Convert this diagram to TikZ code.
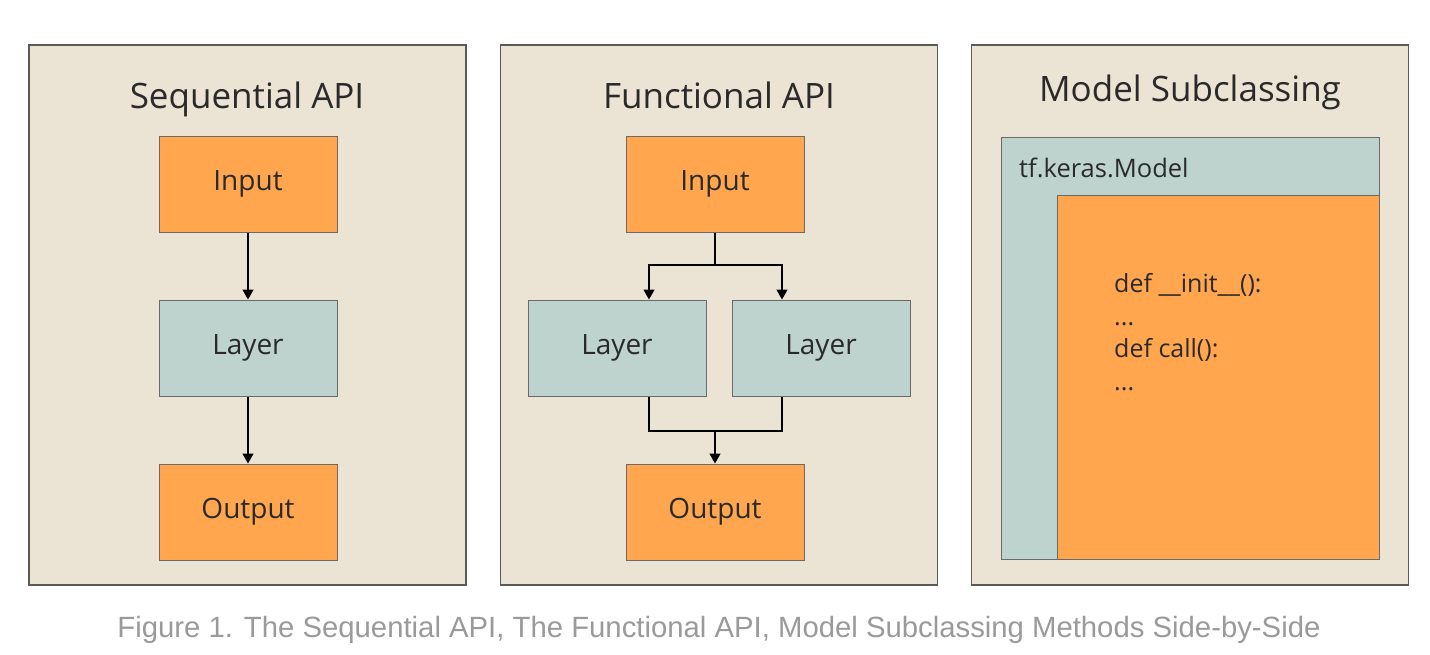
\documentclass[tikz,border=0pt]{standalone}
\usepackage{fontspec}
\setmainfont{Open Sans}
\newfontfamily\capfont{Liberation Sans}
\usetikzlibrary{arrows.meta}
\definecolor{panelbg}{HTML}{EBE4D4}
\definecolor{panelline}{HTML}{5A5A5A}
\definecolor{boxline}{HTML}{6A6A6A}
\definecolor{orangebox}{HTML}{FFA64F}
\definecolor{tealbox}{HTML}{BED3CE}
\definecolor{txt}{HTML}{2A2A2A}
\definecolor{capgray}{HTML}{9A9A9A}
\tikzset{
  panel/.style={draw=panelline, line width=1.4pt, fill=panelbg, minimum width=437, minimum height=540, inner sep=0},
  obox/.style={draw=boxline, line width=1pt, fill=orangebox, minimum width=178, minimum height=96, inner sep=0, text=txt, font=\fontsize{28}{34}\selectfont},
  tbox/.style={obox, fill=tealbox},
  ptitle/.style={anchor=base, text=txt, font=\fontsize{35}{42}\selectfont, inner sep=0},
  arr/.style={draw=black, line width=1.3pt, -{Triangle[width=11pt,length=10pt]}},
  ln/.style={draw=black, line width=1.3pt},
}
\begin{document}
\begin{tikzpicture}[x=1pt,y=-1pt]
\useasboundingbox (0,0) rectangle (1430,654);
\fill[white] (0,0) rectangle (1430,654);
% panels
\node[panel] (p1) at (247.5,315) {};
\node[panel] (p2) at (719,315) {};
\node[panel] (p3) at (1190,315) {};
% titles
\node[ptitle] (t1) at (247,108) {Sequential API};
\node[ptitle] (t2) at (719,108) {Functional API};
\node[ptitle] (t3) at (1190,101) {Model Subclassing};
% sequential
\node[obox] (sin) at (248,184) {Input};
\node[tbox] (sl) at (248,348) {Layer};
\node[obox] (sout) at (248,512) {Output};
\draw[arr] (sin) -- (sl);
\draw[arr] (sl) -- (sout);
% functional
\node[obox] (fin) at (715,184) {Input};
\node[tbox] (fl) at (617,348) {Layer};
\node[tbox] (fr) at (821,348) {Layer};
\node[obox] (fout) at (715,512) {Output};
\coordinate (fsplit) at (715,265);
\coordinate (fmerge) at (715,431);
\draw[ln] (fin.south) -- (fsplit);
\draw[arr] (fsplit) -| ([xshift=32]fl.north);
\draw[arr] (fsplit) -| ([xshift=-39]fr.north);
\draw[ln] ([xshift=32]fl.south) |- (fmerge);
\draw[ln] ([xshift=-39]fr.south) |- (fmerge);
\draw[arr] (fmerge) -- (fout.north);
% model subclassing
\node[draw=boxline, line width=1pt, fill=tealbox, minimum width=378, minimum height=422, inner sep=0] (mt) at (1190,348) {};
\node[draw=boxline, line width=1pt, fill=orangebox, minimum width=322, minimum height=364, inner sep=0] (mo) at (1218,377) {};
\node[anchor=base west, inner sep=0, text=txt, font=\fontsize{25.5}{30}\selectfont] (mlabel) at (1019,177) {tf.keras.Model};
\node[anchor=base west, inner sep=0, text=txt, align=left, font=\fontsize{25}{32.5}\selectfont] (code) at (1114,390) {def \_\_init\_\_():\\...\\def call():\\...};
% caption
\node[anchor=base, inner sep=0, text=capgray, font=\capfont\fontsize{29.3}{34}\selectfont] (cap) at (719,637) {Figure 1. The Sequential API, The Functional API, Model Subclassing Methods Side-by-Side};
\end{tikzpicture}
\end{document}
